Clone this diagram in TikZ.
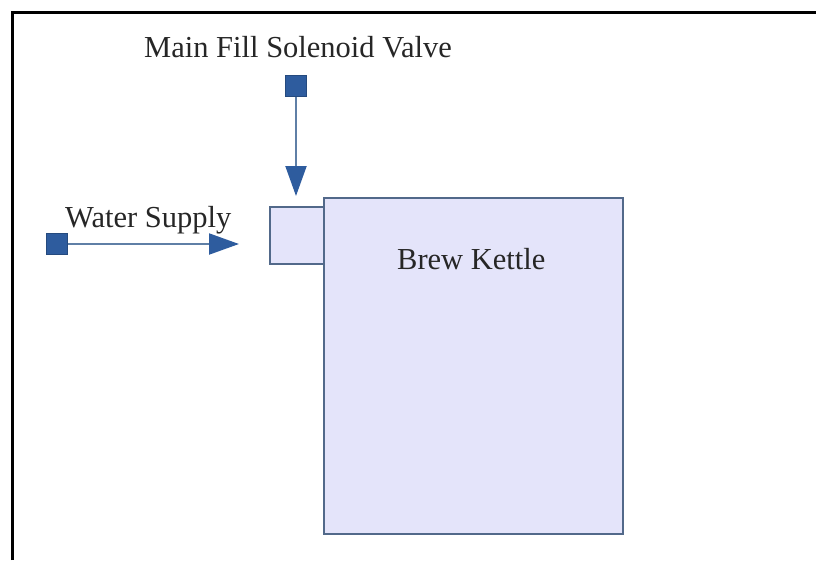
\documentclass[tikz,border=0pt]{standalone}
\usepackage{fontspec}
\setmainfont{Liberation Serif}
\usetikzlibrary{arrows.meta}
\definecolor{sqblue}{HTML}{2E5C9E}
\definecolor{shaft}{HTML}{5F7FA6}
\definecolor{boxfill}{HTML}{E4E4FA}
\definecolor{boxline}{HTML}{52698A}
\tikzset{
  endsq/.style={draw=sqblue!80!black, fill=sqblue, minimum width=21pt, minimum height=21pt, inner sep=0pt, line width=0.6pt},
  flow/.style={draw=shaft, line width=2pt, -{Triangle[length=30pt,width=21pt,fill=sqblue,color=sqblue]}},
  vessel/.style={draw=boxline, fill=boxfill, line width=1.6pt, inner sep=0pt, anchor=north west},
  lbl/.style={font=\fontsize{30.5}{36}\selectfont, text=black!85, inner sep=0pt}
}
\begin{document}
\begin{tikzpicture}[x=1pt,y=-1pt]
\useasboundingbox (0,0) rectangle (816,560);
% frame
\draw[line width=2.5pt, black] (12.5,560) -- (12.5,12.5) -- (816,12.5);
% vessels
\node[vessel, minimum width=56pt, minimum height=57pt] (inlet) at (269,206) {};
\node[vessel, minimum width=299pt, minimum height=336pt] (kettle) at (323,197) {};
% end squares
\node[endsq] (valve) at (296,86) {};
\node[endsq] (supply) at (57,244) {};
% arrow targets
\coordinate (vtip) at (296,196);
\coordinate (stip) at (239,244);
\draw[flow] (valve.south) -- (vtip);
\draw[flow] (supply.east) -- (stip);
% labels
\node[lbl, anchor=base] (tvalve) at (298,57) {Main Fill Solenoid Valve};
\node[lbl, anchor=base west] (tsupply) at (65,227) {Water Supply};
\node[lbl, anchor=base west] (tkettle) at (397,269) {Brew Kettle};
\end{tikzpicture}
\end{document}
